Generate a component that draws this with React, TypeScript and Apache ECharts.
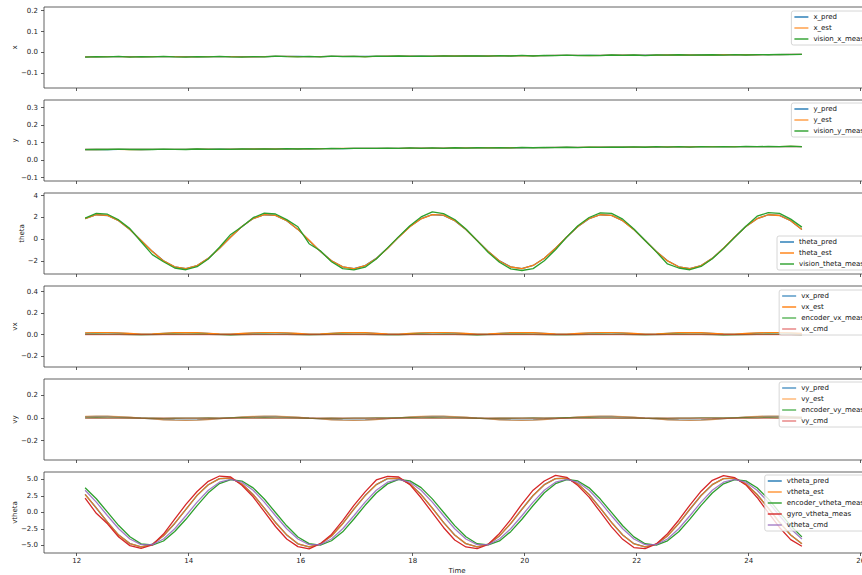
import React, { useEffect, useRef } from "react";
import * as echarts from "echarts";

// ---------- DATA ----------
const T = [12.15,12.35,12.55,12.75,12.95,13.15,13.35,13.55,13.75,13.95,14.15,14.35,14.55,14.75,14.95,15.15,15.35,15.55,15.75,15.95,16.15,16.35,16.55,16.75,16.95,17.15,17.35,17.55,17.75,17.95,18.15,18.35,18.55,18.75,18.95,19.15,19.35,19.55,19.75,19.95,20.15,20.35,20.55,20.75,20.95,21.15,21.35,21.55,21.75,21.95,22.15,22.35,22.55,22.75,22.95,23.15,23.35,23.55,23.75,23.95,24.15,24.35,24.55,24.75,24.95];

const xTicks = [12, 14, 16, 18, 20, 22, 24, 26];
const xTickLabels = ["12", "14", "16", "18", "20", "22", "24", "26"];

const xEst = [-0.022,-0.022,-0.021,-0.021,-0.022,-0.022,-0.021,-0.021,-0.021,-0.022,-0.022,-0.021,-0.021,-0.021,-0.022,-0.022,-0.021,-0.020,-0.020,-0.021,-0.021,-0.021,-0.020,-0.020,-0.020,-0.021,-0.020,-0.019,-0.019,-0.019,-0.020,-0.019,-0.018,-0.018,-0.018,-0.019,-0.018,-0.017,-0.017,-0.016,-0.017,-0.016,-0.015,-0.015,-0.015,-0.016,-0.015,-0.014,-0.014,-0.014,-0.015,-0.014,-0.013,-0.013,-0.013,-0.014,-0.013,-0.012,-0.012,-0.012,-0.012,-0.011,-0.011,-0.010,-0.010];
const xPred = [-0.022,-0.022,-0.021,-0.021,-0.021,-0.022,-0.021,-0.021,-0.021,-0.021,-0.022,-0.021,-0.021,-0.021,-0.021,-0.022,-0.021,-0.020,-0.020,-0.020,-0.021,-0.021,-0.020,-0.020,-0.020,-0.020,-0.020,-0.019,-0.019,-0.019,-0.019,-0.019,-0.018,-0.018,-0.018,-0.018,-0.018,-0.017,-0.017,-0.016,-0.016,-0.016,-0.015,-0.015,-0.015,-0.015,-0.015,-0.014,-0.014,-0.014,-0.014,-0.014,-0.013,-0.013,-0.013,-0.013,-0.013,-0.012,-0.012,-0.012,-0.012,-0.011,-0.011,-0.010,-0.010];
const visionX = [-0.023,-0.021,-0.022,-0.020,-0.023,-0.021,-0.022,-0.020,-0.022,-0.023,-0.021,-0.022,-0.020,-0.022,-0.023,-0.021,-0.022,-0.019,-0.021,-0.022,-0.020,-0.022,-0.019,-0.021,-0.020,-0.022,-0.019,-0.020,-0.018,-0.020,-0.019,-0.020,-0.017,-0.019,-0.017,-0.018,-0.019,-0.016,-0.018,-0.015,-0.018,-0.015,-0.016,-0.014,-0.016,-0.015,-0.016,-0.013,-0.015,-0.013,-0.016,-0.013,-0.014,-0.012,-0.014,-0.013,-0.012,-0.014,-0.011,-0.013,-0.011,-0.012,-0.010,-0.011,-0.010];

const yEst = [0.060,0.060,0.061,0.061,0.060,0.060,0.061,0.061,0.061,0.061,0.062,0.062,0.061,0.062,0.062,0.063,0.063,0.063,0.064,0.064,0.064,0.065,0.065,0.066,0.066,0.066,0.067,0.067,0.067,0.068,0.068,0.068,0.068,0.069,0.069,0.069,0.070,0.070,0.070,0.071,0.071,0.071,0.072,0.072,0.072,0.073,0.073,0.073,0.074,0.074,0.074,0.075,0.075,0.075,0.075,0.076,0.076,0.076,0.076,0.077,0.077,0.077,0.077,0.078,0.077];
const yPred = [0.060,0.060,0.060,0.061,0.061,0.060,0.061,0.061,0.061,0.061,0.062,0.062,0.062,0.062,0.062,0.063,0.063,0.063,0.063,0.064,0.064,0.065,0.065,0.065,0.066,0.066,0.066,0.067,0.067,0.068,0.068,0.068,0.068,0.069,0.069,0.069,0.070,0.070,0.070,0.070,0.071,0.071,0.072,0.072,0.072,0.072,0.073,0.073,0.074,0.074,0.074,0.074,0.075,0.075,0.075,0.076,0.076,0.076,0.076,0.077,0.077,0.077,0.077,0.077,0.077];
const visionY = [0.059,0.061,0.060,0.062,0.060,0.061,0.060,0.062,0.061,0.060,0.063,0.061,0.062,0.061,0.063,0.062,0.064,0.062,0.065,0.063,0.065,0.064,0.066,0.065,0.067,0.066,0.066,0.068,0.066,0.069,0.067,0.069,0.067,0.070,0.068,0.070,0.069,0.071,0.069,0.072,0.070,0.072,0.071,0.073,0.071,0.074,0.072,0.074,0.073,0.075,0.073,0.076,0.074,0.076,0.074,0.077,0.075,0.077,0.075,0.078,0.076,0.078,0.076,0.079,0.077];

const thetaEst = [1.89,2.25,2.19,1.71,0.90,-0.10,-1.11,-1.97,-2.52,-2.68,-2.40,-1.74,-0.82,0.21,1.17,1.90,2.26,2.20,1.72,0.91,-0.09,-1.10,-1.96,-2.52,-2.69,-2.41,-1.75,-0.83,0.20,1.16,1.88,2.27,2.21,1.72,0.90,-0.11,-1.12,-1.98,-2.53,-2.68,-2.39,-1.73,-0.81,0.22,1.18,1.90,2.25,2.19,1.70,0.89,-0.10,-1.11,-1.97,-2.51,-2.67,-2.40,-1.74,-0.82,0.21,1.17,1.89,2.25,2.18,1.70,0.90];
const thetaPred = [1.90,2.25,2.18,1.70,0.90,-0.10,-1.10,-1.96,-2.51,-2.67,-2.40,-1.74,-0.82,0.21,1.17,1.90,2.25,2.19,1.71,0.91,-0.10,-1.10,-1.96,-2.51,-2.68,-2.40,-1.74,-0.82,0.21,1.17,1.89,2.26,2.20,1.71,0.90,-0.10,-1.11,-1.97,-2.52,-2.67,-2.39,-1.73,-0.82,0.21,1.17,1.89,2.25,2.19,1.71,0.90,-0.10,-1.11,-1.96,-2.51,-2.67,-2.40,-1.74,-0.82,0.21,1.17,1.89,2.25,2.19,1.71,0.90];
const visionTheta = [1.95,2.38,2.30,1.78,0.98,-0.22,-1.40,-2.05,-2.62,-2.78,-2.50,-1.80,-0.72,0.45,1.15,1.98,2.40,2.32,1.80,1.15,-0.40,-1.05,-2.05,-2.68,-2.80,-2.55,-1.80,-0.78,0.25,1.25,2.05,2.52,2.35,1.82,0.95,-0.12,-1.20,-2.10,-2.70,-2.85,-2.68,-1.95,-0.95,0.20,1.25,2.00,2.42,2.38,1.85,0.95,-0.10,-1.15,-2.25,-2.62,-2.78,-2.48,-1.78,-0.85,0.18,1.20,2.12,2.45,2.38,1.85,1.12];

const vxEst = [0.016,0.019,0.019,0.016,0.011,0.004,0.007,0.013,0.018,0.019,0.018,0.013,0.007,0.004,0.011,0.016,0.019,0.019,0.016,0.011,0.004,0.007,0.013,0.018,0.019,0.018,0.013,0.007,0.004,0.011,0.016,0.019,0.019,0.016,0.011,0.004,0.007,0.013,0.018,0.019,0.018,0.013,0.007,0.004,0.011,0.016,0.019,0.019,0.016,0.011,0.004,0.007,0.013,0.018,0.019,0.018,0.013,0.007,0.004,0.011,0.016,0.019,0.019,0.016,0.011];
const vxPred = [0.015,0.018,0.018,0.015,0.010,0.004,0.006,0.012,0.017,0.018,0.017,0.012,0.006,0.004,0.010,0.015,0.018,0.018,0.015,0.010,0.004,0.006,0.012,0.017,0.018,0.017,0.012,0.006,0.004,0.010,0.015,0.018,0.018,0.015,0.010,0.004,0.006,0.012,0.017,0.018,0.017,0.012,0.006,0.004,0.010,0.015,0.018,0.018,0.015,0.010,0.004,0.006,0.012,0.017,0.018,0.017,0.012,0.006,0.004,0.010,0.015,0.018,0.018,0.015,0.010];
const encoderVx = [0.003,0.004,0.002,0.003,0.001,-0.002,0.000,0.002,0.004,0.003,0.005,0.002,0.000,-0.003,0.001,0.003,0.004,0.003,0.002,0.000,-0.002,0.001,0.003,0.004,0.003,0.002,0.001,-0.002,-0.001,0.002,0.004,0.003,0.004,0.002,0.000,-0.003,0.001,0.002,0.004,0.005,0.003,0.001,-0.001,-0.002,0.001,0.003,0.004,0.003,0.002,0.000,-0.002,0.000,0.003,0.004,0.003,0.002,0.000,-0.004,-0.002,0.001,0.003,0.004,0.003,0.002,0.001];
const vxCmd = [0,0,0,0,0,0,0,0,0,0,0,0,0,0,0,0,0,0,0,0,0,0,0,0,0,0,0,0,0,0,0,0,0,0,0,0,0,0,0,0,0,0,0,0,0,0,0,0,0,0,0,0,0,0,0,0,0,0,0,0,0,0,0,0,0];

const vyEst = [0.014,0.017,0.016,0.013,0.007,-0.001,-0.008,-0.015,-0.019,-0.020,-0.018,-0.013,-0.006,0.002,0.009,0.014,0.017,0.016,0.013,0.007,-0.001,-0.008,-0.015,-0.019,-0.020,-0.018,-0.013,-0.006,0.002,0.009,0.014,0.017,0.016,0.013,0.007,-0.001,-0.008,-0.015,-0.019,-0.020,-0.018,-0.013,-0.006,0.002,0.009,0.014,0.017,0.016,0.013,0.007,-0.001,-0.008,-0.015,-0.019,-0.020,-0.018,-0.013,-0.006,0.002,0.009,0.014,0.017,0.016,0.013,0.007];
const vyPred = [0.012,0.015,0.014,0.011,0.006,-0.001,-0.007,-0.013,-0.017,-0.018,-0.016,-0.011,-0.005,0.002,0.008,0.012,0.015,0.014,0.011,0.006,-0.001,-0.007,-0.013,-0.017,-0.018,-0.016,-0.011,-0.005,0.002,0.008,0.012,0.015,0.014,0.011,0.006,-0.001,-0.007,-0.013,-0.017,-0.018,-0.016,-0.011,-0.005,0.002,0.008,0.012,0.015,0.014,0.011,0.006,-0.001,-0.007,-0.013,-0.017,-0.018,-0.016,-0.011,-0.005,0.002,0.008,0.012,0.015,0.014,0.011,0.006];
const encoderVy = [0.002,0.003,0.001,0.002,0.000,-0.001,-0.002,-0.003,-0.002,-0.001,0.000,0.001,0.000,0.002,0.003,0.002,0.004,0.002,0.001,0.000,-0.002,-0.003,-0.002,-0.003,-0.001,0.000,0.001,0.002,0.001,0.003,0.002,0.003,0.002,0.001,-0.001,-0.002,-0.003,-0.002,-0.002,0.000,0.001,0.000,0.002,0.003,0.002,0.003,0.002,0.001,0.000,-0.001,-0.003,-0.002,-0.003,-0.001,0.000,0.001,0.002,0.001,0.002,0.003,0.002,0.004,0.002,0.001,0.000];
const vyCmd = [0,0,0,0,0,0,0,0,0,0,0,0,0,0,0,0,0,0,0,0,0,0,0,0,0,0,0,0,0,0,0,0,0,0,0,0,0,0,0,0,0,0,0,0,0,0,0,0,0,0,0,0,0,0,0,0,0,0,0,0,0,0,0,0,0];

const vthetaEst = [2.70,0.66,-1.50,-3.46,-4.74,-5.24,-4.85,-3.55,-1.68,0.44,2.58,4.17,5.10,5.17,4.28,2.72,0.62,-1.55,-3.42,-4.78,-5.26,-4.81,-3.60,-1.73,0.48,2.53,4.21,5.12,5.15,4.32,2.68,0.65,-1.52,-3.45,-4.75,-5.25,-4.84,-3.57,-1.70,0.45,2.56,4.18,5.11,5.16,4.29,2.71,0.63,-1.54,-3.43,-4.77,-5.24,-4.82,-3.59,-1.72,0.47,2.54,4.20,5.10,5.17,4.31,2.69,0.64,-1.53,-3.44,-4.76];
const vthetaPred = [2.71,0.65,-1.51,-3.45,-4.75,-5.24,-4.84,-3.56,-1.69,0.45,2.57,4.18,5.10,5.16,4.29,2.71,0.63,-1.54,-3.43,-4.77,-5.25,-4.82,-3.59,-1.72,0.47,2.54,4.20,5.11,5.15,4.31,2.69,0.64,-1.53,-3.44,-4.76,-5.25,-4.83,-3.58,-1.71,0.46,2.55,4.19,5.11,5.16,4.30,2.70,0.64,-1.53,-3.44,-4.76,-5.24,-4.83,-3.58,-1.71,0.46,2.55,4.19,5.10,5.16,4.30,2.70,0.64,-1.53,-3.44,-4.76];
const encoderVtheta = [3.72,2.05,0.02,-2.01,-3.70,-4.78,-4.96,-4.35,-2.92,-1.06,1.02,2.95,4.35,4.96,4.74,3.70,2.02,-0.03,-2.05,-3.74,-4.75,-4.98,-4.31,-2.96,-1.02,1.06,2.92,4.31,4.98,4.77,3.74,2.04,0.01,-2.02,-3.71,-4.77,-4.95,-4.34,-2.93,-1.05,1.03,2.96,4.34,4.97,4.75,3.71,2.01,-0.02,-2.04,-3.73,-4.76,-4.97,-4.32,-2.95,-1.03,1.05,2.93,4.32,4.96,4.76,3.73,2.03,0.00,-2.03,-3.72];
const gyroVtheta = [2.15,-0.15,-1.75,-3.75,-5.05,-5.48,-4.95,-3.30,-1.05,1.20,3.15,4.70,5.50,5.35,4.10,2.35,0.10,-2.15,-4.05,-5.20,-5.55,-4.75,-3.35,-1.25,1.05,3.10,4.90,5.45,5.35,4.20,2.20,-0.05,-2.30,-4.20,-5.25,-5.50,-4.85,-3.20,-1.10,1.25,3.35,4.75,5.60,5.30,4.05,2.30,0.05,-2.20,-4.10,-5.35,-5.52,-4.80,-3.25,-1.20,1.10,3.20,4.85,5.55,5.25,4.15,2.25,-0.05,-2.30,-4.15,-5.15];
const vthetaCmd = [3.35,1.55,-0.52,-2.50,-4.05,-4.89,-4.89,-4.05,-2.50,-0.52,1.55,3.35,4.57,5.00,4.57,3.35,1.55,-0.52,-2.50,-4.05,-4.89,-4.89,-4.05,-2.50,-0.52,1.55,3.35,4.57,5.00,4.57,3.35,1.55,-0.52,-2.50,-4.05,-4.89,-4.89,-4.05,-2.50,-0.52,1.55,3.35,4.57,5.00,4.57,3.35,1.55,-0.52,-2.50,-4.05,-4.89,-4.89,-4.05,-2.50,-0.52,1.55,3.35,4.57,5.00,4.57,3.35,1.55,-0.52,-2.50,-4.05];

const xAxisTicks = [-0.1, 0, 0.1, 0.2];
const xAxisTickLabels = ["\u22120.1", "0.0", "0.1", "0.2"];
const yAxisTicks = [-0.1, 0, 0.1, 0.2, 0.3];
const yAxisTickLabels = ["\u22120.1", "0.0", "0.1", "0.2", "0.3"];
const thetaTicks = [-2, 0, 2, 4];
const thetaTickLabels = ["\u22122", "0", "2", "4"];
const vxTicks = [-0.2, 0, 0.2, 0.4];
const vxTickLabels = ["\u22120.2", "0.0", "0.2", "0.4"];
const vyTicks = [-0.2, 0, 0.2];
const vyTickLabels = ["\u22120.2", "0.0", "0.2"];
const vthetaTicks = [-5, -2.5, 0, 2.5, 5];
const vthetaTickLabels = ["\u22125.0", "\u22122.5", "0.0", "2.5", "5.0"];

// ---------- STYLE ----------
const BLUE = "#1f77b4";
const ORANGE = "#ff7f0e";
const GREEN = "#2ca02c";
const RED = "#d62728";
const PURPLE = "#9467bd";
const FONT = "DejaVu Sans";

const panels = [
  { label: "x", top: 7, min: -0.172, max: 0.218, ticks: xAxisTicks, tickLabels: xAxisTickLabels, nameGap: 26, legendTop: 11,
    series: [
      { name: "x_pred", values: xPred, color: BLUE, opacity: 1 },
      { name: "x_est", values: xEst, color: ORANGE, opacity: 0.8 },
      { name: "vision_x_meas", values: visionX, color: GREEN, opacity: 1 },
    ] },
  { label: "y", top: 100, min: -0.12, max: 0.343, ticks: yAxisTicks, tickLabels: yAxisTickLabels, nameGap: 26, legendTop: 103,
    series: [
      { name: "y_pred", values: yPred, color: BLUE, opacity: 1 },
      { name: "y_est", values: yEst, color: ORANGE, opacity: 0.8 },
      { name: "vision_y_meas", values: visionY, color: GREEN, opacity: 1 },
    ] },
  { label: "theta", top: 193, min: -3.17, max: 4.24, ticks: thetaTicks, tickLabels: thetaTickLabels, nameGap: 19, legendTop: 236,
    series: [
      { name: "theta_pred", values: thetaPred, color: BLUE, opacity: 1 },
      { name: "theta_est", values: thetaEst, color: ORANGE, opacity: 1 },
      { name: "vision_theta_meas", values: visionTheta, color: GREEN, opacity: 1 },
    ] },
  { label: "vx", top: 286, min: -0.3, max: 0.452, ticks: vxTicks, tickLabels: vxTickLabels, nameGap: 26, legendTop: 290,
    series: [
      { name: "vx_pred", values: vxPred, color: BLUE, opacity: 0.8 },
      { name: "vx_est", values: vxEst, color: ORANGE, opacity: 1 },
      { name: "encoder_vx_meas", values: encoderVx, color: GREEN, opacity: 0.8 },
      { name: "vx_cmd", values: vxCmd, color: RED, opacity: 0.6 },
    ] },
  { label: "vy", top: 379, min: -0.37, max: 0.344, ticks: vyTicks, tickLabels: vyTickLabels, nameGap: 26, legendTop: 382,
    series: [
      { name: "vy_pred", values: vyPred, color: BLUE, opacity: 0.8 },
      { name: "vy_est", values: vyEst, color: ORANGE, opacity: 0.6 },
      { name: "encoder_vy_meas", values: encoderVy, color: GREEN, opacity: 0.8 },
      { name: "vy_cmd", values: vyCmd, color: RED, opacity: 0.6 },
    ] },
  { label: "vtheta", top: 472, min: -6.17, max: 6.11, ticks: vthetaTicks, tickLabels: vthetaTickLabels, nameGap: 26, legendTop: 475,
    series: [
      { name: "vtheta_pred", values: vthetaPred, color: BLUE, opacity: 1 },
      { name: "vtheta_est", values: vthetaEst, color: ORANGE, opacity: 0.85 },
      { name: "encoder_vtheta_meas", values: encoderVtheta, color: GREEN, opacity: 1 },
      { name: "gyro_vtheta_meas", values: gyroVtheta, color: RED, opacity: 1 },
      { name: "vtheta_cmd", values: vthetaCmd, color: PURPLE, opacity: 0.85 },
    ] },
];

const CHART_W = 875;
const GRID_LEFT = 44;
const GRID_W = 826;
const GRID_H = 81;
const X_MIN = 11.416;
const X_MAX = 26.166;

function labelFor(ticks: number[], labels: string[]) {
  return (v: number) => {
    for (let i = 0; i < ticks.length; i++) {
      if (Math.abs(ticks[i] - v) < 1e-9) return labels[i];
    }
    return "";
  };
}

function buildOption() {
  const grid: any[] = [];
  const xAxis: any[] = [];
  const yAxis: any[] = [];
  const legend: any[] = [];
  const series: any[] = [];
  const last = panels.length - 1;

  panels.forEach((p, k) => {
    grid.push({
      left: GRID_LEFT, width: GRID_W, top: p.top, height: GRID_H,
      show: true, borderColor: "#3a3a3a", borderWidth: 0.8, backgroundColor: "transparent",
    });
    xAxis.push({
      type: "value", gridIndex: k, min: X_MIN, max: X_MAX, position: "bottom",
      axisLine: { show: false, onZero: false },
      splitLine: { show: false },
      axisTick: { show: true, length: 3, customValues: xTicks, lineStyle: { color: "#333", width: 0.8 } },
      axisLabel: {
        show: k === last, customValues: xTicks, margin: 4, fontSize: 7, color: "#222", fontFamily: FONT,
        formatter: labelFor(xTicks, xTickLabels),
      },
      name: k === last ? "Time" : "",
      nameLocation: "middle", nameGap: 14, nameMoveOverlap: false,
      nameTextStyle: { fontSize: 7, color: "#222", fontFamily: FONT },
    });
    yAxis.push({
      type: "value", gridIndex: k, min: p.min, max: p.max, position: "left",
      axisLine: { show: false, onZero: false },
      splitLine: { show: false },
      axisTick: { show: true, length: 3, customValues: p.ticks, lineStyle: { color: "#333", width: 0.8 } },
      axisLabel: {
        customValues: p.ticks, margin: 6, fontSize: 7, color: "#222", fontFamily: FONT,
        formatter: labelFor(p.ticks, p.tickLabels),
      },
      name: p.label, nameLocation: "middle", nameGap: p.nameGap, nameMoveOverlap: false,
      nameTextStyle: { fontSize: 7, color: "#222", fontFamily: FONT },
    });
    legend.push({
      data: p.series.map((s) => ({ name: s.name, icon: "rect" })),
      orient: "vertical", right: CHART_W - 867, top: p.legendTop,
      itemWidth: 14, itemHeight: 1.4, itemGap: 3, padding: [2, 3, 2, 3],
      textStyle: { fontSize: 7, fontFamily: FONT, color: "#111", lineHeight: 8 },
      backgroundColor: "rgba(255,255,255,0.8)", borderColor: "#cccccc", borderWidth: 0.8, borderRadius: 2,
      selectedMode: false,
    });
    p.series.forEach((s) => {
      series.push({
        type: "line", name: s.name, xAxisIndex: k, yAxisIndex: k,
        data: T.map((t, i) => [t, s.values[i]]),
        symbol: "none", showSymbol: false, silent: true,
        lineStyle: { color: s.color, width: 1.3, opacity: s.opacity },
        itemStyle: { color: s.color, opacity: s.opacity },
        emphasis: { disabled: true },
      });
    });
  });

  return { animation: false, backgroundColor: "#fff", grid, xAxis, yAxis, legend, series };
}

export default function App() {
  const ref = useRef<HTMLDivElement>(null);
  useEffect(() => {
    if (!ref.current) return;
    const chart = echarts.init(ref.current, undefined, { renderer: "svg" });
    chart.setOption(buildOption() as any);
    return () => chart.dispose();
  }, []);
  return (
    <div style={{ position: "fixed", left: 0, top: 0, width: 862, height: 575, overflow: "hidden", background: "#fff" }}>
      <div ref={ref} style={{ width: CHART_W, height: 575 }} />
    </div>
  );
}
